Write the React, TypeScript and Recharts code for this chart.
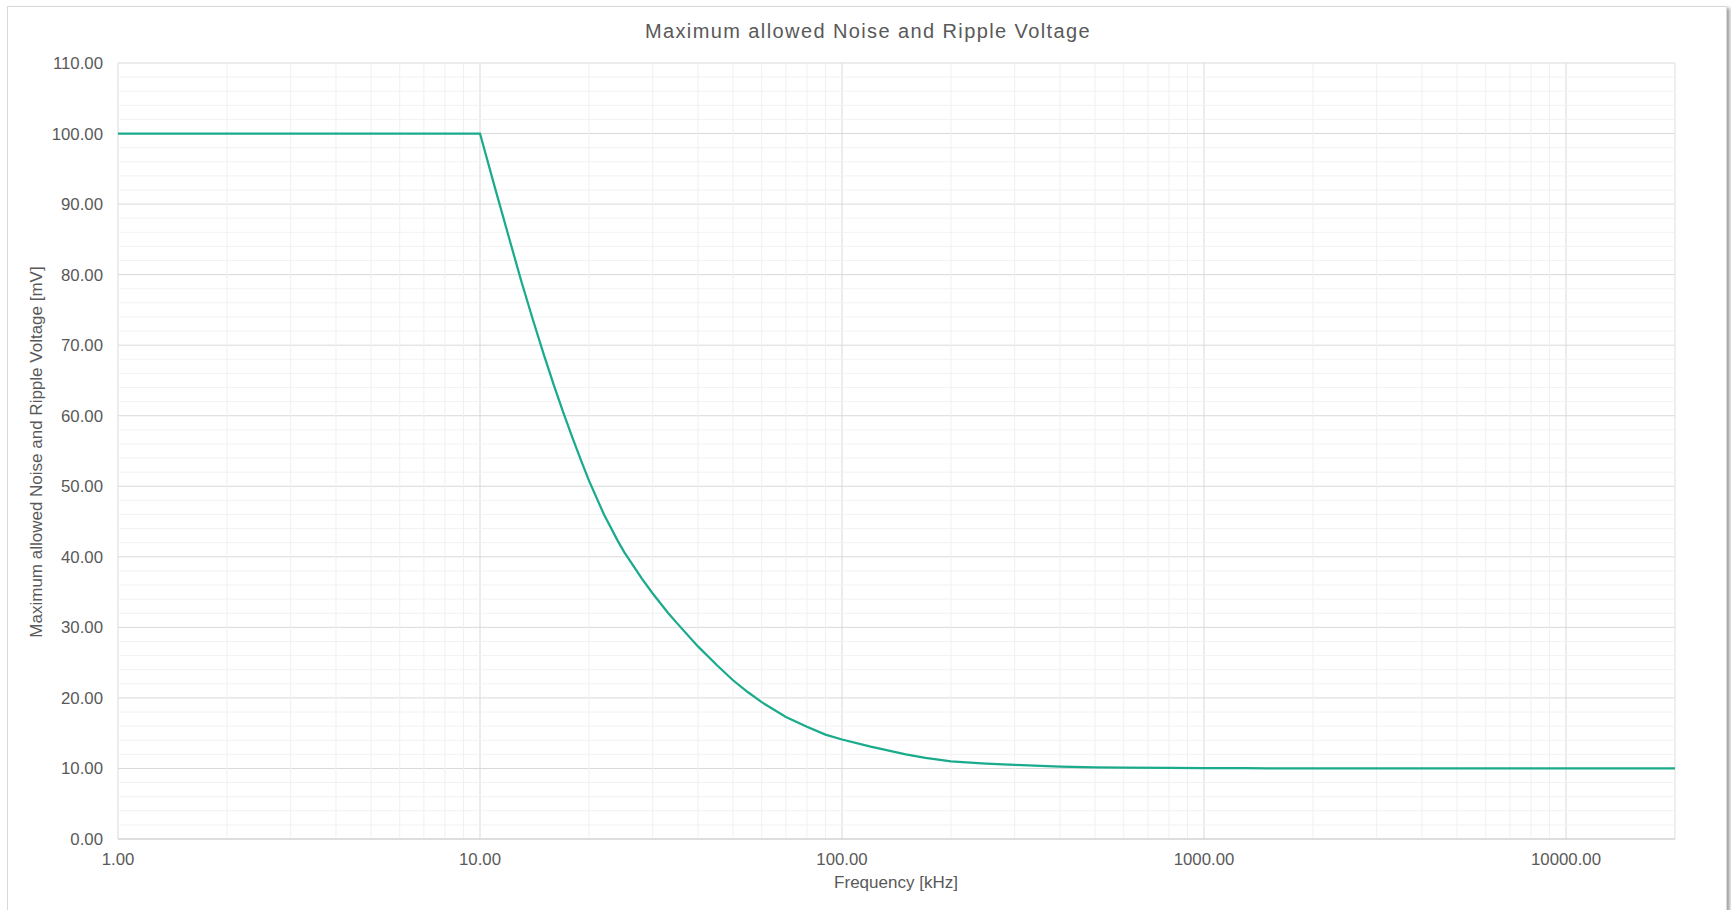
import {
  CartesianGrid,
  Line,
  LineChart,
  ReferenceLine,
  XAxis,
  YAxis,
} from 'recharts';

// frequency in kHz
const FREQ_KHZ = [
  1, 10, 11, 12, 13, 14, 15, 16, 17, 18, 19, 20, 22, 24, 25, 28, 30, 33, 35,
  40, 45, 50, 55, 60, 70, 80, 90, 100, 120, 150, 170, 200, 250, 300, 400, 500,
  600, 800, 1000, 1300, 1500, 2000, 5000, 10000, 20000,
];
// max allowed noise & ripple [mV]
const MAX_MV = [
  100, 100, 92.3, 85.4, 79.1, 73.6, 68.7, 64.3, 60.4, 56.9, 53.7, 50.8, 46.0,
  42.3, 40.7, 36.9, 34.8, 32.1, 30.6, 27.3, 24.7, 22.5, 20.8, 19.4, 17.3, 15.9,
  14.8, 14.1, 13.1, 12.0, 11.5, 11.0, 10.7, 10.5, 10.25, 10.15, 10.1, 10.07,
  10.05, 10.03, 10.0, 10, 10, 10, 10,
];

const X_TICKS = [1, 10, 100, 1000, 10000];
const Y_TICKS = [0, 10, 20, 30, 40, 50, 60, 70, 80, 90, 100, 110];
const X_MINOR = [
  2, 3, 4, 5, 6, 7, 8, 9, 20, 30, 40, 50, 60, 70, 80, 90, 200, 300, 400, 500,
  600, 700, 800, 900, 2000, 3000, 4000, 5000, 6000, 7000, 8000, 9000, 20000,
];
const Y_MINOR = [
  2, 4, 6, 8, 12, 14, 16, 18, 22, 24, 26, 28, 32, 34, 36, 38, 42, 44, 46, 48,
  52, 54, 56, 58, 62, 64, 66, 68, 72, 74, 76, 78, 82, 84, 86, 88, 92, 94, 96,
  98, 102, 104, 106, 108,
];

const FONT = '"Liberation Sans", Arial, sans-serif';
const TEXT = '#595959';

const data = FREQ_KHZ.map((f, i) => ({ f, v: MAX_MV[i] }));
const fmt = (v: number) => v.toFixed(2);

export default function App() {
  return (
    <div
      style={{
        position: 'absolute',
        left: 0,
        top: 0,
        width: 1731,
        height: 910,
        overflow: 'hidden',
        background: '#fff',
        fontFamily: FONT,
      }}
    >
      {/* chart frame */}
      <div
        style={{
          position: 'absolute',
          left: 7,
          top: 6,
          width: 1718,
          height: 930,
          border: '1px solid #d9d9d9',
          boxShadow: '3px 2px 3px rgba(0,0,0,0.35)',
        }}
      />
      <div
        style={{
          position: 'absolute',
          left: 868,
          top: 31,
          transform: 'translate(-50%, -50%)',
          whiteSpace: 'nowrap',
          fontSize: 20,
          letterSpacing: 1.4,
          color: TEXT,
        }}
      >
        Maximum allowed Noise and Ripple Voltage
      </div>
      <div
        style={{
          position: 'absolute',
          left: 896,
          top: 883,
          transform: 'translate(-50%, -50%)',
          whiteSpace: 'nowrap',
          fontSize: 17,
          color: TEXT,
        }}
      >
        Frequency [kHz]
      </div>
      <div
        style={{
          position: 'absolute',
          left: 37,
          top: 452,
          transform: 'translate(-50%, -50%) rotate(-90deg)',
          whiteSpace: 'nowrap',
          fontSize: 17,
          color: TEXT,
        }}
      >
        Maximum allowed Noise and Ripple Voltage [mV]
      </div>

      <div style={{ position: 'absolute', left: 0, top: 0 }}>
        <LineChart
          width={1731}
          height={910}
          data={data}
          margin={{ top: 63, right: 56, bottom: 0, left: 0 }}
        >
          {Y_MINOR.map((y) => (
            <ReferenceLine key={'y' + y} y={y} stroke="#f2f2f2" strokeWidth={1} />
          ))}
          {X_MINOR.map((x) => (
            <ReferenceLine key={'x' + x} x={x} stroke="#f0f0f0" strokeWidth={1} />
          ))}
          <CartesianGrid stroke="#d9d9d9" strokeWidth={1} />
          <XAxis
            dataKey="f"
            type="number"
            scale="log"
            domain={[1, 20000]}
            ticks={X_TICKS}
            tickFormatter={fmt}
            allowDataOverflow
            height={71}
            axisLine={{ stroke: '#d0d0d0' }}
            tickLine={false}
            tickMargin={8}
            tick={{ fill: TEXT, fontSize: 16.8, fontFamily: FONT }}
          />
          <YAxis
            type="number"
            domain={[0, 110]}
            ticks={Y_TICKS}
            tickFormatter={fmt}
            width={118}
            axisLine={false}
            tickLine={false}
            tickMargin={9}
            tick={{ fill: TEXT, fontSize: 16.8, fontFamily: FONT }}
          />
          <Line
            type="linear"
            dataKey="v"
            stroke="#1aab8c"
            strokeWidth={2.25}
            dot={false}
            activeDot={false}
            isAnimationActive={false}
          />
        </LineChart>
      </div>
    </div>
  );
}
